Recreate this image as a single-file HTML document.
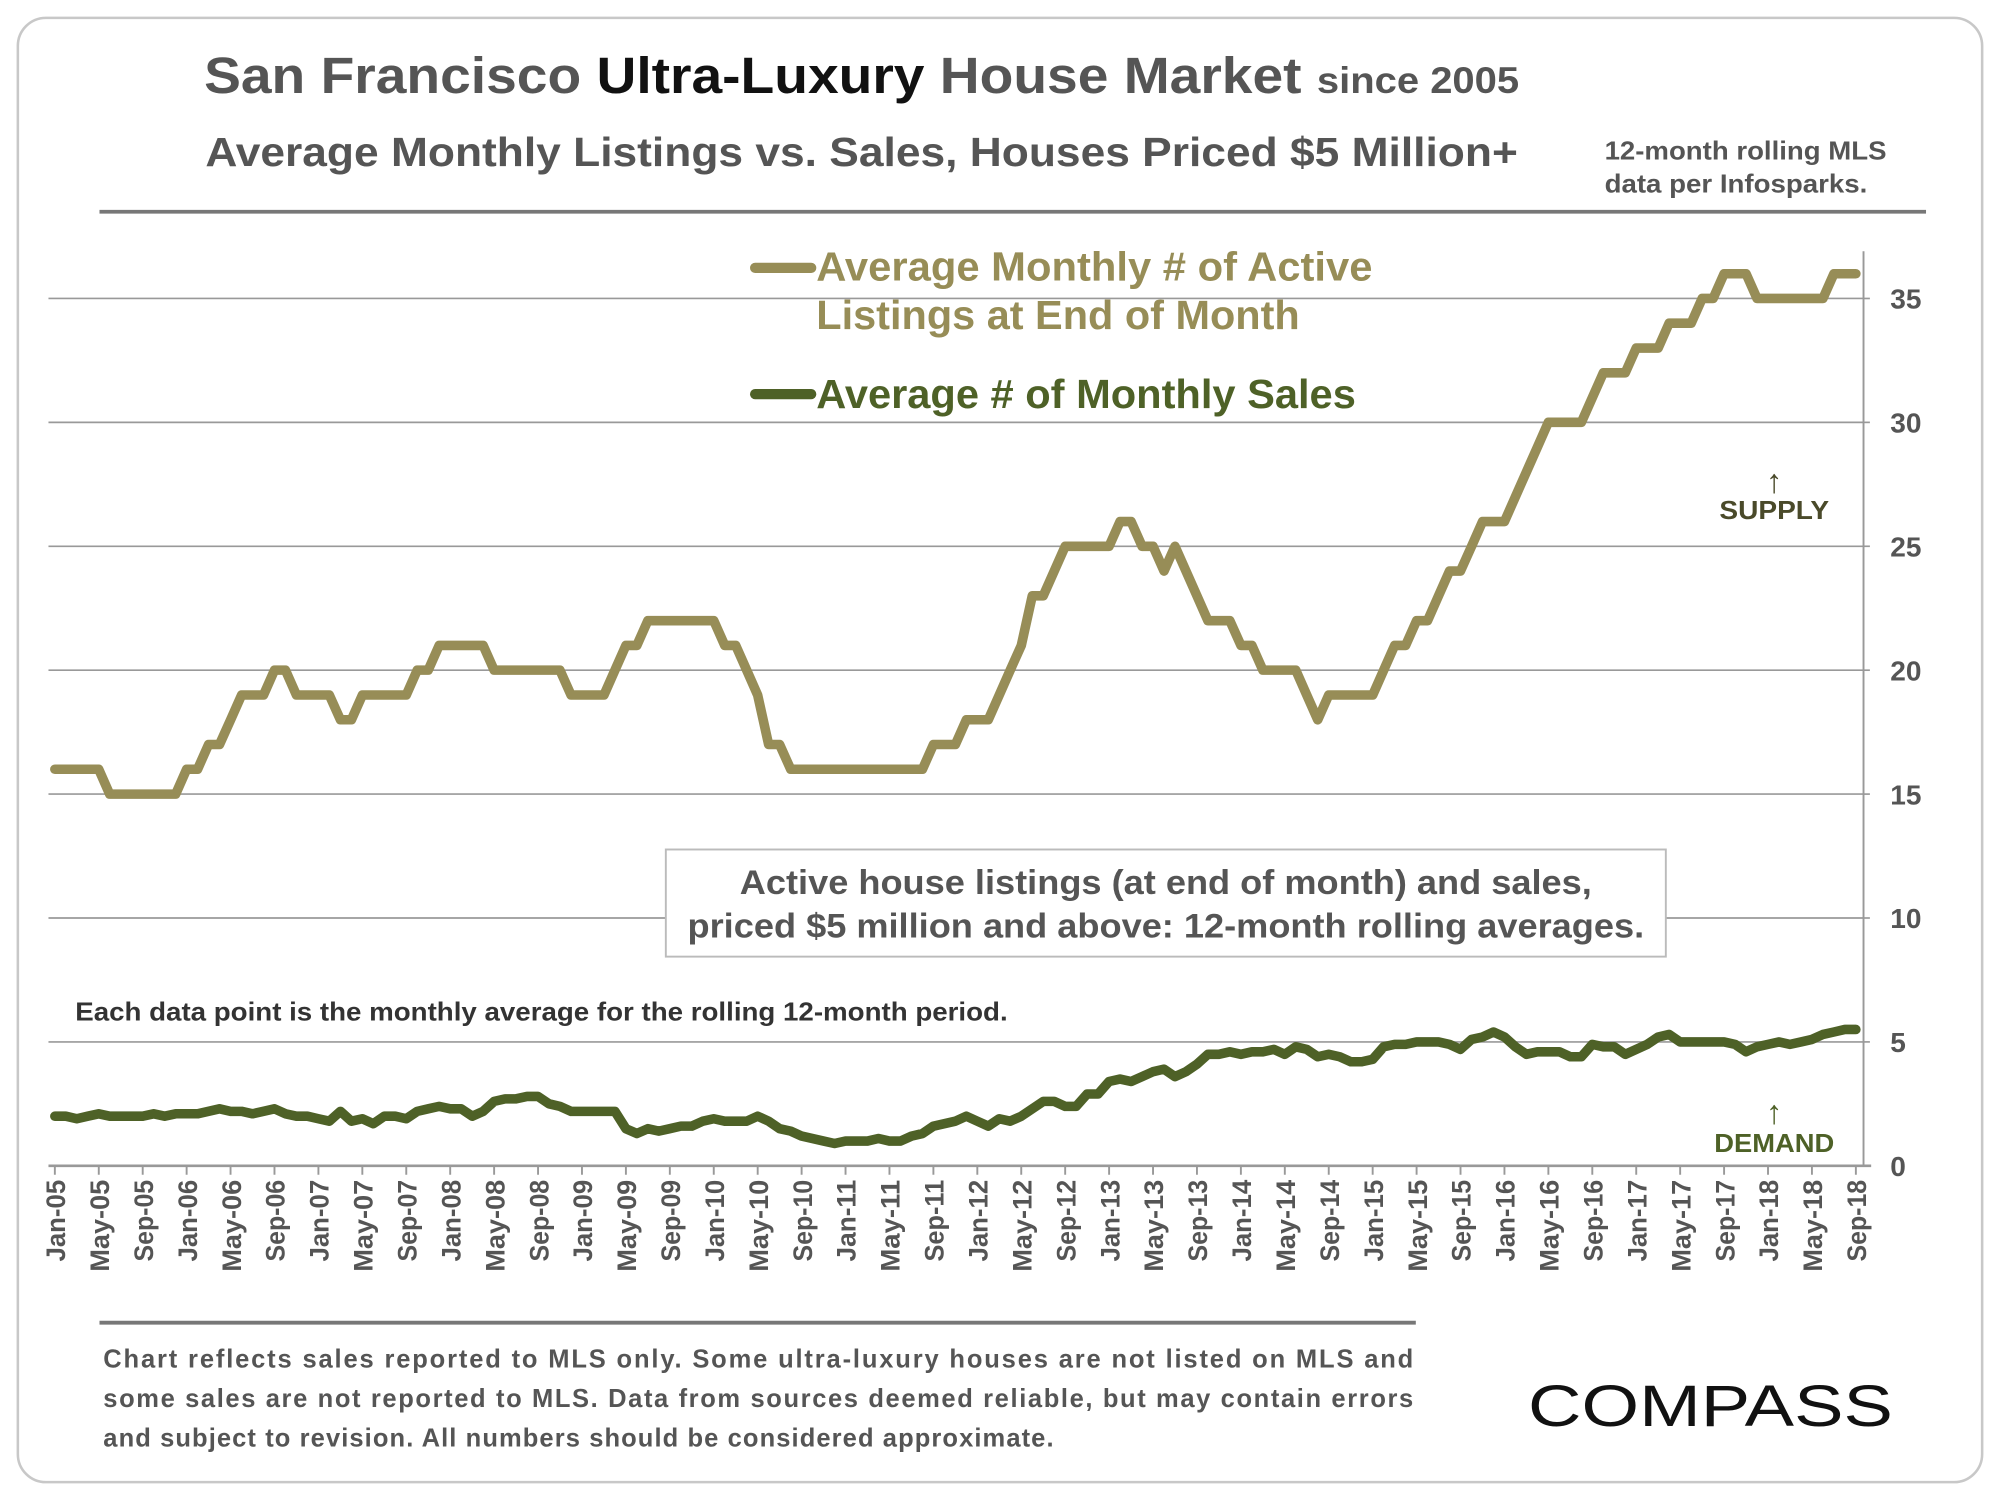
<!DOCTYPE html>
<html><head><meta charset="utf-8"><style>
html,body{margin:0;padding:0;background:#fff;width:2000px;height:1500px;overflow:hidden}
svg{display:block;font-family:"Liberation Sans",Arial,sans-serif}
</style></head><body>
<svg id="chart" width="2000" height="1500" viewBox="0 0 1568 1176">
<rect x="14" y="14" width="1540" height="1148" rx="22" fill="#fff" stroke="#c8c8c8" stroke-width="2"/>
<text x="160" y="73" font-size="40" font-weight="bold" fill="#555" textLength="1031" lengthAdjust="spacingAndGlyphs">San Francisco <tspan fill="#111">Ultra-Luxury</tspan> House Market <tspan font-size="29">since 2005</tspan></text>
<text x="161" y="130" font-size="32" font-weight="bold" fill="#555" textLength="1029" lengthAdjust="spacingAndGlyphs">Average Monthly Listings vs. Sales, Houses Priced $5 Million+</text>
<text x="1258" y="125" font-size="20" font-weight="bold" fill="#555" textLength="221" lengthAdjust="spacingAndGlyphs">12-month rolling MLS</text>
<text x="1258" y="151" font-size="20" font-weight="bold" fill="#555" textLength="206" lengthAdjust="spacingAndGlyphs">data per Infosparks.</text>
<line x1="78" y1="166" x2="1510" y2="166" stroke="#777" stroke-width="3"/>
<g id="grid"></g>
<g id="xaxis"></g>
<g id="series"></g>
<g>
<line x1="592" y1="210" x2="636" y2="210" stroke="#978d57" stroke-width="8" stroke-linecap="round"/>
<text x="640" y="220" font-size="32" font-weight="bold" fill="#978d57" textLength="436" lengthAdjust="spacingAndGlyphs">Average Monthly # of Active</text>
<text x="640" y="258" font-size="32" font-weight="bold" fill="#978d57" textLength="379" lengthAdjust="spacingAndGlyphs">Listings at End of Month</text>
<line x1="592" y1="309" x2="636" y2="309" stroke="#4e6127" stroke-width="8" stroke-linecap="round"/>
<text x="640" y="320" font-size="32" font-weight="bold" fill="#4e6127" textLength="423" lengthAdjust="spacingAndGlyphs">Average # of Monthly Sales</text>
</g>
<text x="1391" y="386" font-size="26" fill="#4a4a2a" text-anchor="middle">↑</text>
<text x="1391" y="407" font-size="20" font-weight="bold" fill="#4a4a2a" text-anchor="middle" textLength="86" lengthAdjust="spacingAndGlyphs">SUPPLY</text>
<text x="1391" y="881" font-size="26" fill="#4e6127" text-anchor="middle">↑</text>
<text x="1391" y="903" font-size="20" font-weight="bold" fill="#4e6127" text-anchor="middle" textLength="94" lengthAdjust="spacingAndGlyphs">DEMAND</text>
<rect x="522" y="666" width="784" height="84" fill="#fff" stroke="#bbb" stroke-width="1.5"/>
<text x="914" y="701" font-size="27" font-weight="bold" fill="#555" text-anchor="middle" textLength="668" lengthAdjust="spacingAndGlyphs">Active house listings (at end of month) and sales,</text>
<text x="914" y="735" font-size="27" font-weight="bold" fill="#555" text-anchor="middle" textLength="750" lengthAdjust="spacingAndGlyphs">priced $5 million and above: 12-month rolling averages.</text>
<text x="59" y="800" font-size="20" font-weight="bold" fill="#333" textLength="731" lengthAdjust="spacingAndGlyphs">Each data point is the monthly average for the rolling 12-month period.</text>
<line x1="78" y1="1037" x2="1110" y2="1037" stroke="#777" stroke-width="3"/>
<g font-size="20" font-weight="bold" fill="#555">
<text x="81" y="1072" textLength="1027" lengthAdjust="spacing">Chart reflects sales reported to MLS only. Some ultra-luxury houses are not listed on MLS and</text>
<text x="81" y="1103" textLength="1027" lengthAdjust="spacing">some sales are not reported to MLS. Data from sources deemed reliable, but may contain errors</text>
<text x="81" y="1134" textLength="745" lengthAdjust="spacing">and subject to revision. All numbers should be considered approximate.</text>
</g>
<text x="1198" y="1118" font-size="46" fill="#111" textLength="286" lengthAdjust="spacingAndGlyphs">COMPASS</text>
</svg>
<script>
const listings = [16,16,16,16,16,15,15,15,15,15,15,15,
16,16,17,17,18,19,19,19,20,20,19,19,
19,19,18,18,19,19,19,19,19,20,20,21,
21,21,21,21,20,20,20,20,20,20,20,19,
19,19,19,20,21,21,22,22,22,22,22,22,
22,21,21,20,19,17,17,16,16,16,16,16,
16,16,16,16,16,16,16,16,17,17,17,18,
18,18,19,20,21,23,23,24,25,25,25,25,
25,26,26,25,25,24,25,24,23,22,22,22,
21,21,20,20,20,20,19,18,19,19,19,19,
19,20,21,21,22,22,23,24,24,25,26,26,
26,27,28,29,30,30,30,30,31,32,32,32,
33,33,33,34,34,34,35,35,36,36,36,35,
35,35,35,35,35,35,36,36,36];
const sales = [2,2,1.9,2,2.1,2,2,2,2,2.1,2,2.1,
2.1,2.1,2.2,2.3,2.2,2.2,2.1,2.2,2.3,2.1,2,2,
1.9,1.8,2.2,1.8,1.9,1.7,2,2,1.9,2.2,2.3,2.4,
2.3,2.3,2,2.2,2.6,2.7,2.7,2.8,2.8,2.5,2.4,2.2,
2.2,2.2,2.2,2.2,1.5,1.3,1.5,1.4,1.5,1.6,1.6,1.8,
1.9,1.8,1.8,1.8,2,1.8,1.5,1.4,1.2,1.1,1,0.9,
1,1,1,1.1,1,1,1.2,1.3,1.6,1.7,1.8,2,
1.8,1.6,1.9,1.8,2,2.3,2.6,2.6,2.4,2.4,2.9,2.9,
3.4,3.5,3.4,3.6,3.8,3.9,3.6,3.8,4.1,4.5,4.5,4.6,
4.5,4.6,4.6,4.7,4.5,4.8,4.7,4.4,4.5,4.4,4.2,4.2,
4.3,4.8,4.9,4.9,5,5,5,4.9,4.7,5.1,5.2,5.4,
5.2,4.8,4.5,4.6,4.6,4.6,4.4,4.4,4.9,4.8,4.8,4.5,
4.7,4.9,5.2,5.3,5,5,5,5,5,4.9,4.6,4.8,
4.9,5,4.9,5,5.1,5.3,5.4,5.5,5.5];
const yTicks = [0,5,10,15,20,25,30,35];
const monthNames = ["Jan","Feb","Mar","Apr","May","Jun","Jul","Aug","Sep","Oct","Nov","Dec"];

const NS="http://www.w3.org/2000/svg";
const X0=43, X1=1455, Y0=914, Y35=234, LEFT=38, RIGHT=1461;
const n = listings.length;
function xs(i){return X0+(X1-X0)*i/(n-1);}
function ys(v){return Y0-(Y0-Y35)*v/35;}
function mk(tag,attrs,parent){const e=document.createElementNS(NS,tag);for(const k in attrs)e.setAttribute(k,attrs[k]);parent.appendChild(e);return e;}

const grid=document.getElementById('grid');
yTicks.forEach(v=>{
  if(v>0){const l=mk('line',{x1:LEFT,x2:RIGHT,y1:ys(v),y2:ys(v),stroke:'#999','stroke-width':1.3},grid);
  
  }
  const t=mk('text',{x:1482,y:ys(v)+8,'font-size':22,'font-weight':'bold',fill:'#555'},grid);
  t.textContent=v;
  
  
  const tk=mk('line',{x1:RIGHT,x2:RIGHT+5,y1:ys(v),y2:ys(v),stroke:'#999','stroke-width':1.3},grid);
  
  
});
const ra=mk('line',{x1:RIGHT,x2:RIGHT,y1:197,y2:Y0,stroke:'#999','stroke-width':1.5},grid);



const xa=document.getElementById('xaxis');
const xl=mk('line',{x1:LEFT,x2:RIGHT+6,y1:Y0,y2:Y0,stroke:'#999','stroke-width':2},xa);


for(let i=0;i<n;i+=4){
  const x=xs(i);
  const tk=mk('line',{x1:x,x2:x,y1:Y0,y2:Y0+7,stroke:'#999','stroke-width':1.5},xa);
  
  
  const yr=5+Math.floor(i/12);
  const lab=monthNames[i%12]+'-'+(yr<10?'0'+yr:yr);
  const t=mk('text',{x:0,y:0,'font-size':21,'font-weight':'bold',fill:'#555','text-anchor':'end',textLength:(lab.startsWith('May')?72:64),lengthAdjust:'spacingAndGlyphs',transform:'translate('+(x+8)+','+(Y0+11)+') rotate(-90)'},xa);
  t.textContent=lab;
  
  
}

const sg=document.getElementById('series');
function line(data,color,name){
  const pts=data.map((v,i)=>xs(i).toFixed(1)+','+ys(v).toFixed(1)).join(' ');
  const p=mk('polyline',{points:pts,fill:'none',stroke:color,'stroke-width':7.5,'stroke-linejoin':'round','stroke-linecap':'round'},sg);
  
  
}
line(listings,'#978d57','listings-line');
line(sales,'#4e6127','sales-line');
</script>
</body></html>
